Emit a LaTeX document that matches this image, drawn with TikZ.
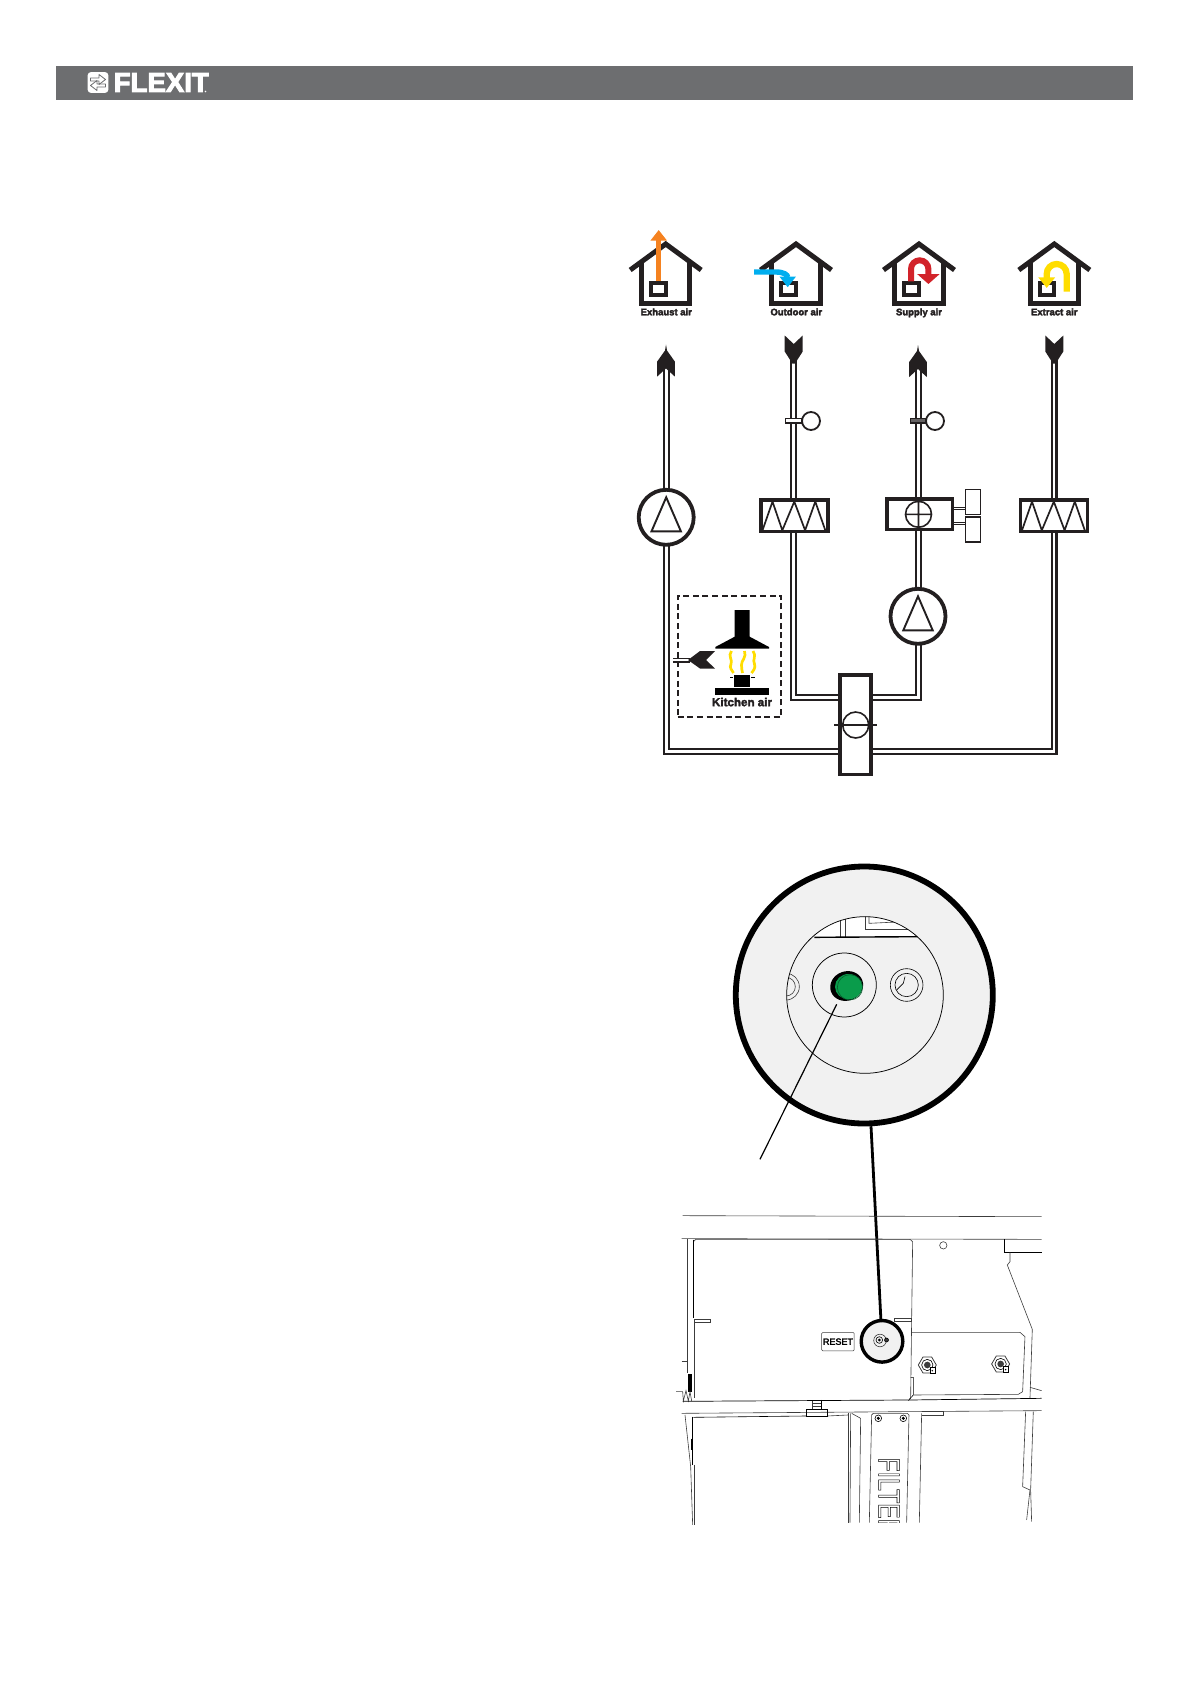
\documentclass[tikz,border=0pt]{standalone}
\usepackage{fontspec}
\setmainfont{Liberation Sans}
\usepackage{graphicx}
\usetikzlibrary{arrows.meta, backgrounds}
\definecolor{myink}{RGB}{35,31,32}
\definecolor{mybar}{RGB}{109,110,112}
\definecolor{mypanel}{RGB}{241,241,241}
\definecolor{mydraft}{RGB}{60,60,60}
\definecolor{myorange}{RGB}{245,130,32}
\definecolor{myblue}{RGB}{0,174,239}
\definecolor{myred}{RGB}{210,35,42}
\definecolor{myyellow}{RGB}{255,221,0}
\definecolor{mygreen}{RGB}{10,156,75}
\newcommand{\heavytext}[2]{\special{pdf:code 2 Tr #1 w}#2\special{pdf:code 0 Tr 1 w}}
\newcommand{\heavywhite}[2]{\special{pdf:code 1 1 1 RG 2 Tr #1 w}#2\special{pdf:code 0 Tr 0 0 0 RG 1 w}}
\tikzset{
  wall/.style={draw=myink, line width=5pt},
  duct/.style={draw=myink, line width=2.2pt, double=white, double distance=2.6pt},
  stub/.style={draw=myink, line width=0.9pt, double=white, double distance=1.5pt},
  airlabel/.style={font=\fontsize{9.5}{10}\selectfont\bfseries, text=myink, inner sep=0pt, anchor=base},
  fanbox/.style={circle, draw=myink, fill=white, line width=3.8pt, minimum size=55pt, inner sep=0pt,
    path picture={\draw[line width=1.9pt, draw=myink]
      ([shift={(0,-20)}]path picture bounding box.center) -- ++(14.7,34) -- ++(-29.4,0) -- cycle;}},
  filterbox/.style={rectangle, draw=myink, fill=white, line width=3.6pt, minimum width=67pt, minimum height=31.7pt, inner sep=0pt,
    path picture={\draw[line width=1.7pt, draw=myink, line join=bevel]
      ([shift={(-31.8,14.5)}]path picture bounding box.center) -- ++(10,-28.7) -- ++(9.8,28.7)
      -- ++(12,-28.7) -- ++(10.8,28.7) -- ++(10.2,-28.7) -- ++(10,28.7);}},
  heaterbox/.style={rectangle, draw=myink, fill=white, line width=3.6pt, minimum width=65.7pt, minimum height=30.7pt, inner sep=0pt,
    path picture={\draw[line width=1.6pt, draw=myink]
      ([xshift=-1.3pt]path picture bounding box.center) circle (13)
      +(-13,0) -- +(13,0) +(0,-13) -- +(0,13);}},
  hxbox/.style={rectangle, draw=myink, fill=white, line width=3.6pt, minimum width=31pt, minimum height=99.4pt, inner sep=0pt},
  rotor/.style={circle, draw=myink, fill=white, line width=1.6pt, minimum size=26pt, inner sep=0pt},
  wing/.style={rectangle, draw=myink, fill=white, line width=1.2pt, minimum width=15pt, minimum height=25pt, inner sep=0pt},
  stem/.style={rectangle, draw=myink, fill=white, line width=1.4pt, minimum width=15.5pt, minimum height=4.5pt, inner sep=0pt},
  ball/.style={circle, draw=myink, fill=white, line width=1.8pt, minimum size=18pt, inner sep=0pt},
  flow/.style={line width=5.4pt},
  draft/.style={draw=mydraft, line width=0.6pt},
  darkdraft/.style={draw=black, line width=1pt},
  fume/.style={draw=myyellow, line width=2.7pt},
  house/.pic={
    \draw[wall] (-35.5,26) -- (0,0) -- (35.5,26);
    \draw[wall] (-24.2,18) -- (-24.2,59) -- (24.2,59) -- (24.2,18);
    \draw[draw=myink, line width=4.2pt] (-14.7,39.3) rectangle (0,50.7);
  },
  upvane/.pic={
    \fill[myink] (0,0) -- (1,6) -- (8.8,17) -- (8.8,32) -- (0,24) -- (-8.8,32) -- (-8.8,17) -- (-1,6) -- cycle;
  },
  downvane/.pic={
    \fill[myink] (-9,0) -- (0,8.5) -- (9,0) -- (9,16) -- (1.3,28) -- (-1.3,28) -- (-9,16) -- cycle;
  }
}

\begin{document}
\begin{tikzpicture}[x=1pt, y=-1pt]
  \useasboundingbox (0,0) rectangle (1190,1684);

  % Header bar
  \node[rectangle, fill=mybar, minimum width=1077pt, minimum height=34pt, inner sep=0pt] (hdrbar) at (594.5,83) {};
  \node[rectangle, fill=white, rounded corners=3pt, minimum size=20.6pt, inner sep=0pt] (logobox) at (98,82.5) {};
  \draw[mybar, line width=0.8pt, line join=round] (90.5,81) -- (90.5,78) -- (99,78) -- (99,74.5) -- (105.5,79.5) -- (99,84.5) -- (99,81) -- cycle;
  \draw[mybar, line width=0.8pt, line join=round] (105.5,84) -- (105.5,87) -- (97,87) -- (97,90.5) -- (90.5,85.5) -- (97,80.5) -- (97,84) -- cycle;
  \node[anchor=west, inner sep=0pt, text=white, font=\fontsize{27.6}{28}\selectfont\bfseries] (logotext) at (113.5,82.5) {\heavywhite{1}{FLEXIT}};
  \fill[white] (205.5,91.5) circle (0.8);

  % Houses
  \pic at (665.7,244) {house};
  \pic at (796,244) {house};
  \pic at (919,244) {house};
  \pic at (1054.3,244) {house};
  \draw[flow, myorange, -{Triangle[length=10.7pt,width=16pt]}] (658.7,281) -- (658.7,230);
  \draw[flow, myblue, -{Triangle[length=10.7pt,width=15.7pt]}] (754,272) -- (776,272) .. controls (784,272) and (787.7,275) .. (787.7,287.3);
  \draw[flow, line width=6pt, myred, -{Triangle[length=10pt,width=22pt]}] (911,281.3) -- (911,269) arc[start angle=180, end angle=360, radius=8.7] -- (928.4,284);
  \draw[line width=6.3pt, myyellow, -{Triangle[length=10.7pt,width=16.3pt]}] (1066.7,291.7) -- (1066.7,274) arc[start angle=0, end angle=-180, radius=10] -- (1046.7,288);
  \node[airlabel] (exhlabel) at (666.3,315.3) {\heavytext{0.3}{Exhaust air}};
  \node[airlabel] (outlabel) at (796.3,315.3) {\heavytext{0.3}{Outdoor air}};
  \node[airlabel] (suplabel) at (919,315.3) {\heavytext{0.3}{Supply air}};
  \node[airlabel] (extlabel) at (1054.3,315.3) {\heavytext{0.3}{Extract air}};

  % Duct ends
  \coordinate (exhtop) at (666.7,360);
  \coordinate (outtop) at (793.7,355);
  \coordinate (suptop) at (918.5,360);
  \coordinate (exttop) at (1054,355);
  \pic at (666,344.5) {upvane};
  \pic at (793.7,335.5) {downvane};
  \pic at (918,345) {upvane};
  \pic at (1054.3,335.5) {downvane};

  % Fans
  \node[fanbox] (fanexh) at (666.2,517.3) {};
  \node[fanbox] (fansup) at (918,616.3) {};

  % Filters
  \node[filterbox] (filtout) at (794.3,515.8) {};
  \node[filterbox] (filtext) at (1053.8,515.8) {};

  % Heater
  \node[heaterbox] (heater) at (919.8,514.3) {};
  \node[wing] (wingup) at (973,501.8) {};
  \node[wing] (wingdn) at (973,529.5) {};
  \draw[stub] ([yshift=6pt]heater.east) -- ([yshift=6pt]heater.east -| wingup.west);
  \draw[stub] ([yshift=-9pt]heater.east) -- ([yshift=-9pt]heater.east -| wingdn.west);

  % Dampers
  \node[stem] (stemout) at (793.5,420.8) {};
  \node[ball] (ballout) at (811,421) {};
  \node[stem, fill=myink!70] (stemsup) at (918,420.8) {};
  \node[ball] (ballsup) at (935,421) {};

  % Heat exchanger
  \node[hxbox] (hx) at (855.5,724.6) {};
  \node[rotor] (hxrotor) at (855.7,725) {};
  \draw[draw=myink, line width=1.4pt] ([xshift=-7.5pt]hxrotor.west) -- ([xshift=7pt]hxrotor.east);

  % Paths
  \coordinate (hxoutdoor) at (840,697.3);
  \coordinate (hxsupply) at (870,697.3);
  \coordinate (hxexhaust) at (840,751.7);
  \coordinate (hxextract) at (870,751.7);
  \begin{scope}[on background layer]
    \draw[duct] (exhtop) -- (exhtop |- fanexh);
    \draw[duct] (exhtop |- fanexh) |- (hxexhaust);
    \draw[duct] (outtop) -- (outtop |- filtout);
    \draw[duct] (outtop |- filtout) |- (hxoutdoor);
    \draw[duct] (suptop) -- (suptop |- fansup);
    \draw[duct] (suptop |- fansup) |- (hxsupply);
    \draw[duct] (exttop) -- (exttop |- filtext);
    \draw[duct] (exttop |- filtext) |- (hxextract);
  \end{scope}

  % Kitchen
  \node[rectangle, draw=myink, dashed, dash pattern=on 6pt off 3.6pt, line width=1.7pt, minimum width=103.6pt, minimum height=121pt, inner sep=0pt] (hoodbox) at (729.5,656.5) {};
  \fill[black] (734.7,610) -- (749.7,610) -- (749.7,636.7) -- (769,647) -- (769,648.5) -- (715.3,648.5) -- (715.3,647) -- (734.7,636.7) -- cycle;
  \draw[fume] (731.5,651) .. controls (727.5,656) and (733,660) .. (731,664) .. controls (729,668) and (732,670) .. (733.5,673);
  \draw[fume] (744.5,651) .. controls (747,657) and (741,661) .. (741.5,665) .. controls (741.5,668) and (742,671) .. (742.5,673);
  \draw[fume] (753,651) .. controls (757,656) and (752,660) .. (754.5,664) .. controls (756,668) and (753,671) .. (751.5,673);
  \fill[black] (734,675.3) rectangle (750,687);
  \fill[black] (730,677) rectangle (733,678.2);
  \fill[black] (751,677) rectangle (754.7,678.2);
  \fill[black] (715,688) rectangle (769,695);
  \node[airlabel, font=\fontsize{11.6}{12}\selectfont\bfseries] (hoodlabel) at (742,706.2) {\heavytext{0.35}{Kitchen air}};
  \coordinate (hoodtail) at (690,660);
  \coordinate (hoodend) at (672.7,660);
  \draw[stub, line width=1.1pt, double distance=2.8pt] (hoodtail) -- (hoodend);
  \fill[myink] (715,651) -- (700,651) -- (688,660) -- (700,668.5) -- (715,668.5) -- (706,660) -- cycle;

  % Spot on the unit and its link
  \node[circle, draw=black, fill=mypanel, line width=3.4pt, minimum size=41.6pt, inner sep=0pt] (spot) at (882,1341.3) {};
  \node[circle, draw=black, fill=mypanel, line width=5.8pt, minimum size=257pt, inner sep=0pt] (detail) at (864.3,995) {};
  \begin{scope}[on background layer]
    \draw[draw=black, line width=2.8pt] (detail) -- (spot);
  \end{scope}

  % Detail circle
  \begin{scope}[shift={(720,850)}, x=.3333pt, y=-.3333pt]
    \begin{scope}
      \clip (435,435) circle (235);
      \draw[draft] (198,410) circle (40);
      \draw[draft] (198,410) circle (28);
      \draw[draw=none, fill=white] (283,262) -- (597,260) -- (560,215) -- (440,190) -- (330,215) -- cycle;
      \draw[draft] (362,200) -- (362,260);
      \draw[draft] (375,200) -- (375,260);
      \draw[draft] (437,190) -- (437,237) -- (590,237);
      \draw[draft] (447,190) -- (447,220) -- (530,216);
      \draw[darkdraft, line width=1.4pt] (283,262) -- (597,260);
    \end{scope}
    \draw[draft, draw=black, line width=.75pt] (435,435) circle (235);
    \draw[draft, draw=black, line width=.75pt] (373,405) circle (96);
    \draw[draft, draw=black] (560,405) circle (49);
    \draw[draft, draw=black] (560,405) circle (35);
    \draw[draft, draw=black] (530,420) -- (550,400) -- (555,380);
    \fill[black, rotate around={20:(380,408)}] (380,408) ellipse (50 and 44);
    \fill[mygreen] (386,410) ellipse (41 and 38);
    \draw[draft, draw=mygreen!60!black] (390,412) circle (38);
  \end{scope}
  \coordinate (dotend) at (836.7,1004.3);
  \coordinate (leadend) at (760,1159.3);
  \draw[draw=black, line width=1.2pt] (dotend) -- (leadend);

  % Unit drawing
  \begin{scope}[shift={(670,1200)}, x=.3333pt, y=-.3333pt]
    \begin{scope}[on background layer]
      \draw[draft] (38,47) -- (1115,50);
      \draw[draft] (35,116) -- (1115,118);
    \end{scope}
    \draw[draft] (52,116) -- (52,520);
    \draw[draft] (70,125) -- (78,118) -- (720,118) -- (728,125) -- (722,595) -- (715,602);
    \draw[darkdraft] (70,120) -- (70,355);
    \draw[draft] (72,360) -- (72,595);
    \draw[draft] (72,358) -- (122,358) -- (122,367) -- (72,367);
    \draw[draft] (673,355) -- (725,355) -- (725,365) -- (673,365) -- cycle;
    \draw[draft] (35,483) -- (52,483);
    \fill[black] (55,522) rectangle (65,575);
    \draw[draft] (18,575) -- (38,575) -- (40,603) -- (48,572) -- (55,603) -- (60,575) -- (65,603);
    \draw[darkdraft, line width=0.7pt] (38,604) -- (720,600) -- (1115,595);
    \draw[draft] (35,640) -- (1115,632);
    % lower left
    \draw[darkdraft, line width=0.6pt] (70,652) -- (410,648);
    \draw[draft] (472,648) -- (535,645);
    \draw[darkdraft, line width=0.6pt] (410,650) -- (410,628) -- (472,628) -- (472,650) -- cycle;
    \draw[draft] (428,602) -- (428,628);
    \draw[darkdraft, line width=0.6pt] (455,600) -- (455,628);
    \draw[draft] (430,610) -- (453,610);
    \draw[draft] (430,618) -- (453,618);
    \draw[darkdraft] (68,650) -- (68,795);
    \draw[darkdraft] (63,716) -- (63,750);
    \draw[draft] (72,795) -- (72,975);
    \draw[draft] (45,645) -- (62,800) -- (68,975);
    % filter strip
    \draw[draft] (535,640) -- (535,968);
    \draw[draft] (542,640) -- (540,968);
    \draw[draft] (545,640) -- (572,655) -- (568,968);
    \draw[draft] (605,645) -- (610,640) -- (712,640) -- (717,645) -- (710,968);
    \draw[draft] (605,645) -- (598,968);
    \draw[draft] (755,640) -- (748,968);
    \draw[draft] (755,635) -- (820,635) -- (820,645) -- (755,645);
    \foreach \sx in {625,700} {
      \draw[darkdraft, line width=0.6pt] (\sx,655) circle (10);
      \fill[black] (\sx,655) circle (5);
    }
    \begin{scope}
      \clip (600,700) rectangle (720,968);
      \node[rotate=-90, anchor=west, inner sep=0pt, font=\fontsize{30}{30}\selectfont] (filterword) at (657,772)
        {\special{pdf:code 1 Tr 0.6 w}\scalebox{.77}[1]{FILTER}\special{pdf:code 0 Tr 1 w}};
    \end{scope}
    % right side
    \draw[draft] (725,397) -- (1050,397) -- (1065,410) -- (1058,575) -- (1045,583) -- (732,585);
    \draw[darkdraft, line width=0.6pt] (722,532) -- (730,532) -- (730,585) -- (718,598);
    \draw[darkdraft] (1003,118) -- (1003,157) -- (1115,157);
    \draw[draft] (1020,157) -- (1020,185) -- (1012,195) -- (1087,388) -- (1080,595);
    \draw[draft] (1080,562) -- (1115,572);
    \draw[draft] (1067,635) -- (1058,860) -- (1080,870) -- (1070,960);
    \draw[draft] (1090,635) -- (1082,870) -- (1085,965);
    \draw[draft] (820,136) circle (11);
    \foreach \bx/\by in {772/495,992/492} {
      \draw[draft, line width=.8pt] (\bx+27,\by) -- (\bx+13,\by-24) -- (\bx-13,\by-24) -- (\bx-27,\by) -- (\bx-13,\by+24) -- (\bx+13,\by+24) -- cycle;
      \draw[draft, draw=black] (\bx,\by) circle (17);
      \fill[mydraft] (\bx,\by) circle (10);
      \draw[draw=black, fill=white, line width=0.8pt] (\bx+8,\by+6) rectangle (\bx+23,\by+25);
      \fill[black] (\bx+15,\by+17) circle (2.5);
    }
    \node[rectangle, draw=mydraft, fill=white, line width=0.5pt, rounded corners=1pt, minimum width=32.5pt, minimum height=18.3pt, inner sep=0pt, font=\fontsize{9}{9}\selectfont] (resetbox) at (504,425) {\heavytext{0.25}{RESET}};
  \end{scope}

  % Spot face
  \draw[draft] (880,1340.5) circle (6.3);
  \draw[draft, draw=black] (879.3,1340) circle (3.3);
  \fill[black] (879.3,1340) circle (1.5);
  \draw[draft, draw=black, fill=mydraft] (886.5,1340) circle (2);
\end{tikzpicture}
\end{document}
